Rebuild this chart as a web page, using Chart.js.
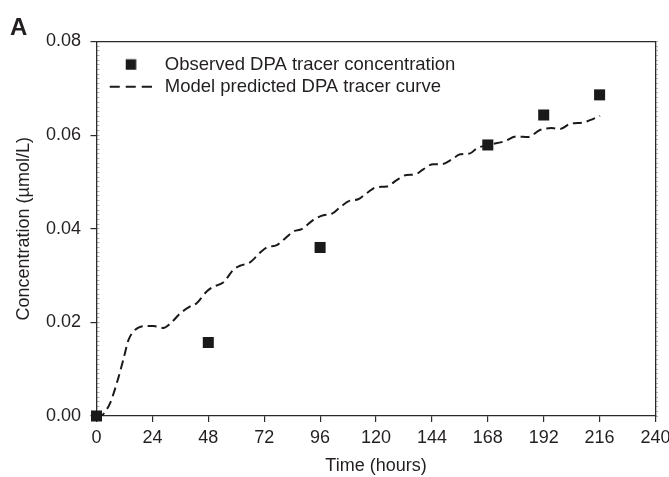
<!DOCTYPE html>
<html><head><meta charset="utf-8">
<script src="https://cdn.jsdelivr.net/npm/chart.js@4.4.1/dist/chart.umd.min.js"></script>
<style>html,body{margin:0;padding:0;background:#fff;}</style>
</head><body>
<canvas id="c" width="669" height="477"></canvas>
<script>
// ---- data ----
const obsTime = [0, 48, 96, 168, 192, 216];
const obsConc = [0.0, 0.0157, 0.0360, 0.0579, 0.0643, 0.0686];

const modelTime = [0, 2, 3.5, 5.8, 8.7, 11.5, 13.7, 15.8, 18, 20.1, 24.4, 28.7, 31.6, 35.9, 40.2, 43.0, 47.3, 50.1, 54.4, 58.7, 61.6, 65.9, 70.2, 73.1, 77.4, 80.2, 84.5, 88.1, 93.1, 97.4, 101.0, 104.6, 108.8, 112.4, 116.0, 120.3, 124.6, 128.9, 133.2, 136.7, 140.3, 144.6, 148.2, 152.5, 156.1, 160.4, 163.3, 168.2, 174.7, 180.4, 185.4, 190.4, 195.4, 199.0, 203.3, 209.0, 211.9, 216.2];
const modelConc = [0, 0, 0.0008, 0.0027, 0.0070, 0.0120, 0.0162, 0.0180, 0.0189, 0.0192, 0.0192, 0.0188, 0.0197, 0.0219, 0.0234, 0.0241, 0.0266, 0.0276, 0.0285, 0.0312, 0.0321, 0.0328, 0.0349, 0.0360, 0.0365, 0.0376, 0.0394, 0.0399, 0.0419, 0.0429, 0.0432, 0.0446, 0.0460, 0.0463, 0.0476, 0.0489, 0.0490, 0.0504, 0.0515, 0.0516, 0.0527, 0.0538, 0.0538, 0.0548, 0.0559, 0.0561, 0.0572, 0.0579, 0.0586, 0.0597, 0.0596, 0.0611, 0.0615, 0.0613, 0.0624, 0.0627, 0.0632, 0.0641];

const xTicks = [0, 24, 48, 72, 96, 120, 144, 168, 192, 216, 240];
const yTicks = [0, 0.02, 0.04, 0.06, 0.08];

const seriesNames = ['Observed DPA tracer concentration', 'Model predicted DPA tracer curve'];

// ---- styling ----
const FAM = '"Liberation Sans", Arial, Helvetica, sans-serif';
const TXT = '#231f20';
const AX = '#2a2a2a';
const INK = '#1a1a1a';

function glyph(kind) {
  const c = document.createElement('canvas');
  c.width = 48; c.height = 14;
  const g = c.getContext('2d');
  if (kind === 'square') {
    g.fillStyle = INK;
    g.fillRect(22, 1.5, 10.5, 10.5);
  } else {
    g.strokeStyle = INK;
    g.lineWidth = 2;
    g.setLineDash([10, 6]);
    g.beginPath(); g.moveTo(6, 7); g.lineTo(48, 7); g.stroke();
  }
  return c;
}
const sqGlyph = glyph('square');
const lnGlyph = glyph('line');

const chart = new Chart(document.getElementById('c'), {
  data: {
    datasets: [
      {
        type: 'scatter',
        label: seriesNames[0],
        data: obsTime.map((t, i) => ({ x: t, y: obsConc[i] })),
        pointStyle: 'rect',
        pointRadius: 7.8,
        pointHoverRadius: 7.8,
        backgroundColor: INK,
        borderWidth: 0,
        clip: false,
        order: 0
      },
      {
        type: 'line',
        label: seriesNames[1],
        data: modelTime.map((t, i) => ({ x: t, y: modelConc[i] })),
        borderColor: INK,
        borderWidth: 2,
        borderDash: [9, 5],
        pointRadius: 0,
        fill: false,
        cubicInterpolationMode: 'monotone',
        order: 1
      }
    ]
  },
  options: {
    responsive: false,
    animation: false,
    devicePixelRatio: 1,
    layout: { padding: { left: 10, right: 0, top: 0, bottom: 0 } },
    plugins: {
      tooltip: { enabled: false },
      title: {
        display: true, text: 'A', align: 'start', color: TXT,
        font: { family: FAM, size: 24, weight: 'bold', lineHeight: 1 },
        padding: { top: 16, bottom: 0 }
      },
      legend: {
        position: 'chartArea', align: 'start',
        title: { display: true, text: '', font: { size: 1, lineHeight: 1 }, padding: { top: 51, bottom: 0 } },
        labels: {
          usePointStyle: true, pointStyleWidth: 55.5, padding: 3.5,
          color: TXT, font: { family: FAM, size: 18.5 },
          generateLabels: () => [
            { text: seriesNames[0], pointStyle: sqGlyph, fillStyle: INK, strokeStyle: INK, lineWidth: 0, hidden: false, datasetIndex: 0, fontColor: TXT },
            { text: seriesNames[1], pointStyle: lnGlyph, fillStyle: INK, strokeStyle: INK, lineWidth: 0, hidden: false, datasetIndex: 1, fontColor: TXT }
          ]
        }
      }
    },
    scales: {
      x: {
        type: 'linear', position: 'bottom', min: 0, max: 240,
        afterBuildTicks: s => { s.ticks = xTicks.map(v => ({ value: v })); },
        ticks: { color: TXT, font: { family: FAM, size: 18 }, padding: 5, maxRotation: 0, autoSkip: false, callback: v => String(v) },
        grid: { drawOnChartArea: false, tickLength: 6, color: AX, lineWidth: 1.2 },
        border: { color: AX, width: 1.3 },
        title: { display: true, text: 'Time (hours)', color: TXT, font: { family: FAM, size: 18 }, padding: { top: 0, bottom: 0 } },
        afterFit: s => { s.height = 61; s.paddingRight = 0; s.paddingLeft = 0; }
      },
      xTop: {
        type: 'linear', position: 'top', min: 0, max: 240,
        ticks: { display: false },
        grid: { drawOnChartArea: false, drawTicks: false },
        border: { display: true, color: AX, width: 1.3 },
        afterFit: s => { s.height = 1.5; }
      },
      y: {
        type: 'linear', position: 'left', min: 0, max: 0.08, weight: 1,
        afterBuildTicks: s => { s.ticks = yTicks.map(v => ({ value: v })); },
        ticks: { color: TXT, font: { family: FAM, size: 18 }, padding: 9.5, callback: v => Number(v).toFixed(2) },
        grid: { drawOnChartArea: false, tickLength: 6, color: AX, lineWidth: 1.2 },
        border: { color: AX, width: 1.3 },
        title: { display: true, text: 'Concentration (µmol/L)', color: TXT, font: { family: FAM, size: 18 }, padding: { top: 3, bottom: 0 } },
        afterFit: s => { s.width = 86.5; s.paddingTop = 0; s.paddingBottom = 0; }
      },
      yMinor: {
        type: 'linear', position: 'left', min: 0, max: 0.08, weight: 0,
        ticks: { stepSize: 0.001, maxTicksLimit: 200, autoSkip: false, callback: () => '', font: { size: 1 } },
        grid: { drawOnChartArea: false, tickLength: -3, color: '#9a9a9a', lineWidth: 0.8 },
        border: { display: false },
        afterFit: s => { s.width = 0; s.paddingTop = 0; s.paddingBottom = 0; }
      },
      yRight: {
        type: 'linear', position: 'right', min: 0, max: 0.08,
        ticks: { stepSize: 0.001, maxTicksLimit: 200, autoSkip: false, callback: () => '', font: { size: 1 } },
        grid: { drawOnChartArea: false, tickLength: 2.5, color: '#9a9a9a', lineWidth: 0.8 },
        border: { display: true, color: AX, width: 1.3 },
        afterFit: s => { s.width = 13.5; s.paddingTop = 0; s.paddingBottom = 0; }
      }
    }
  }
});
</script>
</body></html>
